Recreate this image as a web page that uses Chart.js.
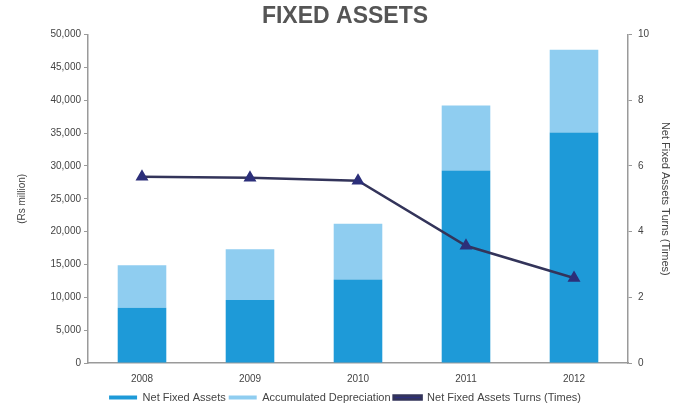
<!DOCTYPE html>
<html>
<head>
<meta charset="utf-8">
<script src="https://cdn.jsdelivr.net/npm/chart.js@4"></script>
<style>
  html, body { margin: 0; padding: 0; background: #fff; }
  #wrap { width: 682px; height: 406px; }
</style>
</head>
<body>
<div id="wrap"><canvas id="fixedAssets" width="682" height="406"></canvas></div>
<script>
// Fixed assets: stacked bars (Rs million) + turnover line on the right axis
const years = ['2008', '2009', '2010', '2011', '2012'];
const netFixedAssets = [8400, 9600, 12700, 29300, 35100];
const accumDepreciation = [6500, 7700, 8500, 9900, 12600];
const assetTurns = [5.67, 5.64, 5.55, 3.57, 2.59];

const textColor = '#444';
const axisColor = '#9a9a9a';
const fontFamily = 'Liberation Sans, Arial, sans-serif';
const baseFont = { family: fontFamily, size: 10 };

const ctx = document.getElementById('fixedAssets').getContext('2d');

new Chart(ctx, {
  type: 'bar',
  data: {
    labels: years,
    datasets: [
      {
        type: 'line',
        label: 'Net Fixed Assets Turns (Times)',
        data: assetTurns,
        yAxisID: 'y1',
        borderColor: '#33345a',
        backgroundColor: '#2c2f7a',
        borderWidth: 2.5,
        pointStyle: 'triangle',
        pointRadius: 5,
        pointBackgroundColor: '#2c2f7a',
        pointBorderColor: '#2c2f7a',
        tension: 0,
        order: 0
      },
      {
        label: 'Net Fixed Assets',
        data: netFixedAssets,
        backgroundColor: '#1e9ad8',
        stack: 'a',
        barPercentage: 0.45,
        categoryPercentage: 1,
        order: 1
      },
      {
        label: 'Accumulated Depreciation',
        data: accumDepreciation,
        backgroundColor: '#8fcdf0',
        stack: 'a',
        barPercentage: 0.45,
        categoryPercentage: 1,
        order: 1
      }
    ]
  },
  options: {
    responsive: false,
    animation: false,
    layout: { padding: { top: 0, left: 16, right: 8, bottom: -7 } },
    plugins: {
      title: {
        display: true,
        text: 'FIXED ASSETS',
        color: '#555',
        font: { family: fontFamily, size: 23, weight: 'bold' },
        padding: { top: 3, bottom: 4 }
      },
      legend: {
        position: 'bottom',
        labels: {
          color: textColor,
          font: { family: fontFamily, size: 11 },
          boxWidth: 28,
          boxHeight: 4,
          padding: 3,
          sort: (a, b) => {
            const rank = { 'Net Fixed Assets': 0, 'Accumulated Depreciation': 1 };
            return (rank[a.text] ?? 2) - (rank[b.text] ?? 2);
          }
        }
      },
      tooltip: { enabled: false }
    },
    scales: {
      x: {
        stacked: true,
        afterFit: s => { s.height = 26; },
        grid: { display: false, drawTicks: false },
        border: { color: axisColor, width: 1.5 },
        ticks: { color: textColor, font: baseFont, padding: 10 }
      },
      y: {
        stacked: true,
        min: 0,
        max: 50000,
        position: 'left',
        afterFit: s => { s.width = 72; },
        grid: { drawOnChartArea: false, tickLength: 4, color: axisColor },
        border: { color: axisColor, width: 1.5 },
        ticks: {
          stepSize: 5000,
          color: textColor,
          font: baseFont,
          padding: 3,
          callback: v => v.toLocaleString('en-US')
        },
        title: {
          display: true,
          text: '(Rs million)',
          color: textColor,
          font: baseFont,
          padding: { top: 0, bottom: 4 }
        }
      },
      y1: {
        min: 0,
        max: 10,
        position: 'right',
        afterFit: s => { s.width = 46; },
        grid: { drawOnChartArea: false, tickLength: 4, color: axisColor },
        border: { color: axisColor, width: 1.5 },
        ticks: { stepSize: 2, color: textColor, font: baseFont, padding: 6 },
        title: {
          display: true,
          text: 'Net Fixed Assets Turns (Times)',
          color: textColor,
          font: { family: fontFamily, size: 11 },
          padding: { top: 2, bottom: 0 }
        }
      }
    }
  }
});
</script>
</body>
</html>
